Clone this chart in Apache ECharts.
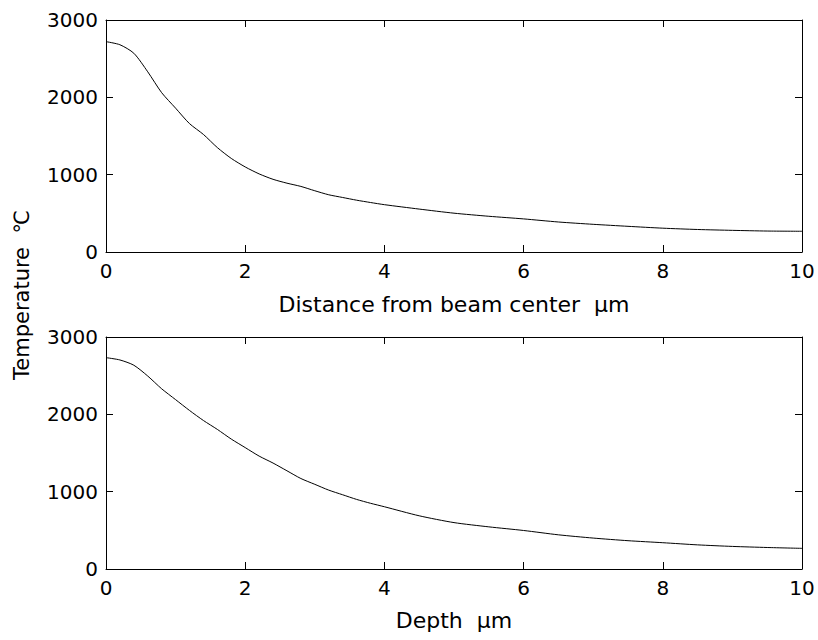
<!DOCTYPE html>
<html>
<head>
<meta charset="utf-8">
<script src="https://cdn.jsdelivr.net/npm/echarts@6/dist/echarts.min.js"></script>
<style>
html,body{margin:0;padding:0;background:#fff;}
#chart{width:818px;height:640px;}
</style>
</head>
<body>
<div id="chart"></div>
<script>
// Top panel: temperature vs distance from beam center
const xDist = [0, 0.2, 0.4, 0.6, 0.8, 1.0, 1.2, 1.4, 1.6, 1.8, 2.0, 2.2, 2.4, 2.6, 2.8, 3.0, 3.2, 3.4, 3.6, 3.8, 4.0, 4.5, 5.0, 5.5, 6.0, 6.5, 7.0, 7.5, 8.0, 8.5, 9.0, 9.5, 10];
const tempDist = [2720, 2680, 2570, 2330, 2060, 1860, 1660, 1520, 1350, 1210, 1100, 1010, 940, 890, 848, 792, 740, 705, 670, 640, 612, 555, 502, 462, 428, 388, 358, 332, 308, 291, 280, 271, 268];
// Bottom panel: temperature vs depth
const xDepth = [0, 0.2, 0.4, 0.6, 0.8, 1.0, 1.2, 1.4, 1.6, 1.8, 2.0, 2.2, 2.4, 2.6, 2.8, 3.0, 3.2, 3.4, 3.6, 3.8, 4.0, 4.5, 5.0, 5.5, 6.0, 6.5, 7.0, 7.5, 8.0, 8.5, 9.0, 9.5, 10];
const tempDepth = [2733, 2703, 2635, 2495, 2330, 2190, 2050, 1920, 1805, 1680, 1570, 1460, 1370, 1270, 1170, 1095, 1020, 960, 900, 850, 805, 688, 600, 545, 498, 442, 400, 366, 340, 312, 292, 278, 267];

const xLabelTop = 'Distance from beam center  μm';
const xLabelBottom = 'Depth  μm';
const yLabel = 'Temperature  ℃';

const FONT = 'DejaVu Sans';
const chart = echarts.init(document.getElementById('chart'), null, {renderer: 'svg'});

const plainNum = v => String(v);

function xAxisCfg(gridIndex, name, nameGap) {
  return {
    type: 'value', gridIndex, min: 0, max: 10, interval: 2, position: 'bottom',
    name, nameLocation: 'middle', nameGap,
    nameTextStyle: {color: '#000', fontFamily: FONT, fontSize: 22},
    axisLine: {show: true, onZero: false, lineStyle: {color: '#000', width: 1}},
    axisTick: {show: true, inside: true, length: 7, lineStyle: {color: '#000'}},
    axisLabel: {color: '#000', fontFamily: FONT, fontSize: 20, margin: 9, formatter: plainNum},
    splitLine: {show: false}
  };
}
function xAxisTopCfg(gridIndex) {
  return {
    type: 'value', gridIndex, min: 0, max: 10, interval: 2, position: 'top',
    axisLine: {show: true, onZero: false, lineStyle: {color: '#000', width: 1}},
    axisTick: {show: true, inside: true, length: 7, lineStyle: {color: '#000'}},
    axisLabel: {show: false}, splitLine: {show: false}
  };
}
function yAxisCfg(gridIndex) {
  return {
    type: 'value', gridIndex, min: 0, max: 3000, interval: 1000, position: 'left',
    axisLine: {show: true, onZero: false, lineStyle: {color: '#000', width: 1}},
    axisTick: {show: true, inside: true, length: 7, lineStyle: {color: '#000'}},
    axisLabel: {color: '#000', fontFamily: FONT, fontSize: 20, margin: 8, formatter: plainNum},
    splitLine: {show: false}
  };
}
function yAxisRightCfg(gridIndex) {
  return {
    type: 'value', gridIndex, min: 0, max: 3000, interval: 1000, position: 'right',
    axisLine: {show: true, onZero: false, lineStyle: {color: '#000', width: 1}},
    axisTick: {show: true, inside: true, length: 7, lineStyle: {color: '#000'}},
    axisLabel: {show: false}, splitLine: {show: false}
  };
}

const option = {
  backgroundColor: '#fff',
  animation: false,
  grid: [
    {left: 106, top: 20, width: 696, height: 232},
    {left: 106, top: 337, width: 696, height: 232}
  ],
  xAxis: [
    xAxisCfg(0, xLabelTop, 41),
    xAxisTopCfg(0),
    xAxisCfg(1, xLabelBottom, 40),
    xAxisTopCfg(1)
  ],
  yAxis: [
    yAxisCfg(0), yAxisRightCfg(0),
    yAxisCfg(1), yAxisRightCfg(1)
  ],
  graphic: [{
    type: 'text', x: 22, y: 295, rotation: Math.PI / 2,
    style: {text: yLabel, fill: '#000', font: '21px "DejaVu Sans"', textAlign: 'center', textVerticalAlign: 'middle'}
  }],
  series: [
    {
      type: 'line', xAxisIndex: 0, yAxisIndex: 0, showSymbol: false, smooth: 0.25,
      lineStyle: {color: '#000', width: 1},
      data: xDist.map((x, i) => [x, tempDist[i]])
    },
    {
      type: 'line', xAxisIndex: 2, yAxisIndex: 2, showSymbol: false, smooth: 0.25,
      lineStyle: {color: '#000', width: 1},
      data: xDepth.map((x, i) => [x, tempDepth[i]])
    }
  ]
};
chart.setOption(option);
</script>
</body>
</html>
